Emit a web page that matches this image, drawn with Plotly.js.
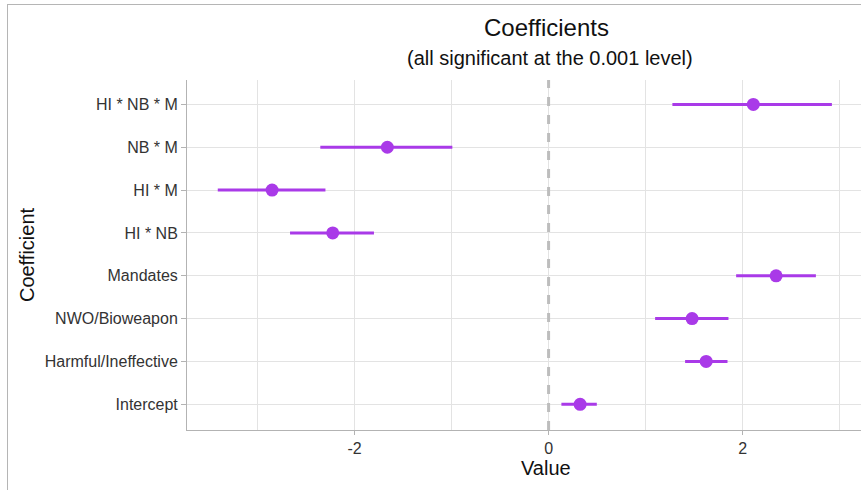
<!DOCTYPE html>
<html>
<head>
<meta charset="utf-8">
<script src="https://cdn.plot.ly/plotly-3.0.1.min.js"></script>
<style>
  html, body { margin: 0; padding: 0; background: #fff; }
  #wrap { position: relative; width: 861px; height: 490px; }
  #chart { position: absolute; left: 0; top: 0; width: 861px; height: 490px; }
  #frame { position: absolute; left: 7px; top: 4px; right: 0; bottom: 0;
           border-left: 1px solid #b5b5b5; border-top: 1px solid #b5b5b5; pointer-events: none; }
</style>
</head>
<body>
<div id="wrap"><div id="chart"></div><div id="frame"></div></div>
<script>
// Coefficient names, bottom to top
const coefficients = ["Intercept", "Harmful/Ineffective", "NWO/Bioweapon", "Mandates",
                      "HI * NB", "HI * M", "NB * M", "HI * NB * M"];
// Point estimates
const estimates = [0.325, 1.624, 1.479, 2.345, -2.225, -2.85, -1.662, 2.11];
// Interval bounds
const lower = [0.132, 1.407, 1.098, 1.933, -2.665, -3.41, -2.353, 1.276];
const upper = [0.497, 1.844, 1.854, 2.755, -1.80, -2.30, -0.992, 2.92];
const xTicks = [-2, 0, 2];
const titleText = "Coefficients";
const subtitleText = "(all significant at the 0.001 level)";
const xTitleText = "Value";
const yTitleText = "Coefficient";

const col = "#A93AE8";
const plus = estimates.map((v, i) => upper[i] - v);
const minus = estimates.map((v, i) => v - lower[i]);

const trace = {
  type: "scatter", mode: "markers",
  x: estimates, y: coefficients,
  marker: { color: col, size: 13 },
  error_x: { type: "data", symmetric: false, array: plus, arrayminus: minus,
             color: col, thickness: 3, width: 0 },
  hoverinfo: "x+y", showlegend: false
};

const font = "Liberation Sans, Arial, sans-serif";
const layout = {
  width: 861, height: 490,
  margin: { l: 187, r: 0, t: 80, b: 60 },
  paper_bgcolor: "#fff", plot_bgcolor: "#fff",
  font: { family: font, color: "#333" },
  xaxis: {
    range: [-3.727, 3.22], tickvals: xTicks, ticktext: xTicks.map(String),
    showgrid: true, gridcolor: "#e3e3e3", gridwidth: 1,
    minor: { dtick: 1, tick0: 0, showgrid: true, gridcolor: "#e3e3e3", gridwidth: 1, ticks: "" },
    zeroline: false, showline: true, linecolor: "#b3b3b3", linewidth: 1,
    ticks: "outside", ticklen: 4, tickcolor: "#b3b3b3",
    tickfont: { size: 16, color: "#333" }
  },
  yaxis: {
    type: "category", categoryorder: "array", categoryarray: coefficients,
    range: [-0.6, 7.57],
    showgrid: true, gridcolor: "#e3e3e3", gridwidth: 1,
    zeroline: false, showline: true, linecolor: "#b3b3b3", linewidth: 1,
    ticks: "outside", ticklen: 5, tickcolor: "#b3b3b3",
    tickfont: { size: 16, color: "#333" },
    title: { text: yTitleText, font: { size: 20, color: "#111" }, standoff: 4 }
  },
  annotations: [
    { text: titleText, xref: "paper", yref: "paper", x: 0.533, y: 1.151,
      xanchor: "center", yanchor: "middle", showarrow: false,
      font: { size: 24, color: "#111", family: font } },
    { text: subtitleText, xref: "paper", yref: "paper", x: 0.538, y: 1.063,
      xanchor: "center", yanchor: "middle", showarrow: false,
      font: { size: 20, color: "#111", family: font } },
    { text: xTitleText, xref: "paper", yref: "paper", x: 0.533, y: -0.109,
      xanchor: "center", yanchor: "middle", showarrow: false,
      font: { size: 20, color: "#111", family: font } }
  ],
  shapes: [{ type: "line", xref: "x", yref: "paper", x0: 0, x1: 0, y0: 0, y1: 1,
             line: { color: "#bdbdbd", width: 3, dash: "dash" }, layer: "above" }]
};

Plotly.newPlot("chart", [trace], layout, { displayModeBar: false, staticPlot: true });
</script>
</body>
</html>
